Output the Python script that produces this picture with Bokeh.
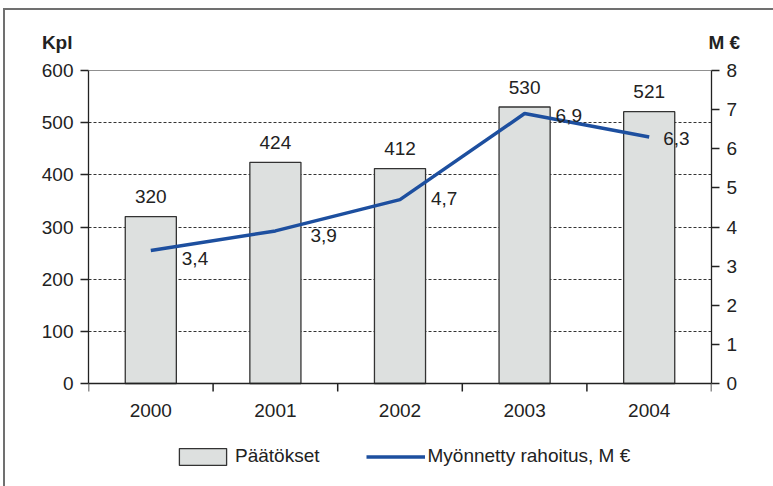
import math
from bokeh.plotting import figure
from bokeh.models import (Range1d, LinearAxis, FixedTicker, Span,
                          ColumnDataSource, Label, Legend, LegendItem)
from bokeh.embed import file_html
from bokeh.resources import INLINE

# ---- data ----
years = ["2000", "2001", "2002", "2003", "2004"]
decisions = [320, 424, 412, 530, 521]          # Päätökset (Kpl)
funding = [3.4, 3.9, 4.7, 6.9, 6.3]            # Myönnetty rahoitus, M €
funding_labels = ["3,4", "3,9", "4,7", "6,9", "6,3"]
left_ticks = [0, 100, 200, 300, 400, 500, 600]
right_ticks = [0, 1, 2, 3, 4, 5, 6, 7, 8]
left_unit = "Kpl"
right_unit = "M €"

# ---- layout / label placement (pixels) ----
line_label_dx = [31, 35, 31, 31, 14]
line_label_dy = [8, 5, -1, 2, 1]
DATA_H_PX = 313        # height of the 0..600 plotting area
EXTRA_PX = 97          # room below the axis for year labels and legend
FONT = "Liberation Sans"
TXT = "#222222"
FS = "19px"
BLUE = "#1d4f9f"
AX = "#222222"

L_MAX = left_ticks[-1]
R_MAX = right_ticks[-1]
y_start = -EXTRA_PX * L_MAX / DATA_H_PX
xs = list(range(len(years)))
bounds_x = [i - 0.5 for i in range(len(years) + 1)]

p = figure(frame_width=623, frame_height=DATA_H_PX + EXTRA_PX, output_backend="svg",
           toolbar_location=None, x_axis_location=None,
           x_range=Range1d(-0.5, len(years) - 0.5), y_range=Range1d(y_start, L_MAX),
           min_border_left=83, min_border_right=62, min_border_top=60,
           min_border_bottom=6)
p.styles = {"margin-left": "3px", "margin-top": "8px",
            "border-left": "2px solid #707070", "border-top": "2px solid #707070"}
p.outline_line_color = None
p.background_fill_color = "white"
p.border_fill_color = "white"
p.extra_y_ranges = {"m": Range1d(y_start * R_MAX / L_MAX, R_MAX)}

# grid
p.xgrid.visible = False
p.ygrid.ticker = FixedTicker(ticks=left_ticks[1:-1])
p.ygrid.grid_line_color = "#333333"
p.ygrid.grid_line_dash = "3 2"
p.ygrid.grid_line_width = 1

# frame top line and category axis line
p.add_layout(Span(location=L_MAX, dimension="width", line_color=AX, line_width=1.2))

# bars
bsrc = ColumnDataSource(dict(x=xs, top=decisions, lab=[str(v) for v in decisions]))
bars = p.vbar(x="x", top="top", bottom=0, width=0.41, source=bsrc, fill_color="#dde0df",
              line_color="#333333", line_width=1.3)
p.text(x="x", y="top", text="lab", source=bsrc, text_align="center",
       text_baseline="alphabetic", y_offset=-20, text_font_size=FS,
       text_color=TXT, text_font={"value": FONT})

p.add_layout(Span(location=0, dimension="width", line_color=AX, line_width=1.3))

# category axis: boundary ticks + year labels
p.ray(x=bounds_x, y=[0] * len(bounds_x), length=8, length_units="screen",
      angle=-math.pi / 2, line_color=AX, line_width=1.5)
p.text(x=xs, y=[0] * len(xs), text=years, text_align="center",
       text_baseline="middle", y_offset=27, text_font_size=FS,
       text_color=TXT, text_font={"value": FONT})

# line
lsrc = ColumnDataSource(dict(x=xs, y=funding, lab=funding_labels,
                             dx=line_label_dx, dy=line_label_dy))
line = p.line(x="x", y="y", source=lsrc, line_color=BLUE, line_width=3.5,
              y_range_name="m")
p.text(x="x", y="y", text="lab", source=lsrc, x_offset="dx", y_offset="dy",
       text_align="left", text_baseline="middle", text_font_size=FS,
       text_color=TXT, text_font={"value": FONT}, y_range_name="m")

# value axes
ly = p.yaxis[0]
ly.ticker = FixedTicker(ticks=left_ticks)
ly.bounds = (0, L_MAX)

ry = LinearAxis(y_range_name="m", ticker=FixedTicker(ticks=right_ticks), bounds=(0, R_MAX))
p.add_layout(ry, "right")

for a in (ly, ry):
    a.major_tick_out = 8
    a.major_tick_in = 0
    a.minor_tick_line_color = None
    a.major_label_standoff = 7
    a.axis_line_color = AX
    a.axis_line_width = 1.3
    a.major_tick_line_color = AX
    a.major_tick_line_width = 1.3
    a.major_label_text_font = FONT
    a.major_label_text_font_size = FS
    a.major_label_text_color = TXT

# unit titles
p.add_layout(Label(x=-0.5, y=L_MAX, x_offset=-16, y_offset=28, text=left_unit,
                   text_align="right", text_baseline="middle",
                   text_font=FONT, text_font_size=FS, text_font_style="bold",
                   text_color=TXT), "above")
p.add_layout(Label(x=len(years) - 0.5, y=L_MAX, x_offset=-3, y_offset=28, text=right_unit,
                   text_align="left", text_baseline="middle",
                   text_font=FONT, text_font_size=FS, text_font_style="bold",
                   text_color=TXT), "above")

legend = Legend(items=[LegendItem(label="Päätökset", renderers=[bars]),
                       LegendItem(label="Myönnetty rahoitus, M €", renderers=[line])],
                orientation="horizontal", location=(85, 13),
                glyph_width=59, glyph_height=21, label_standoff=3, spacing=46,
                padding=0, margin=0, border_line_alpha=0, background_fill_alpha=0,
                label_text_font=FONT, label_text_font_size=FS, label_text_color=TXT)
p.add_layout(legend, "center")

open("out.html", "w").write(file_html(p, INLINE))
